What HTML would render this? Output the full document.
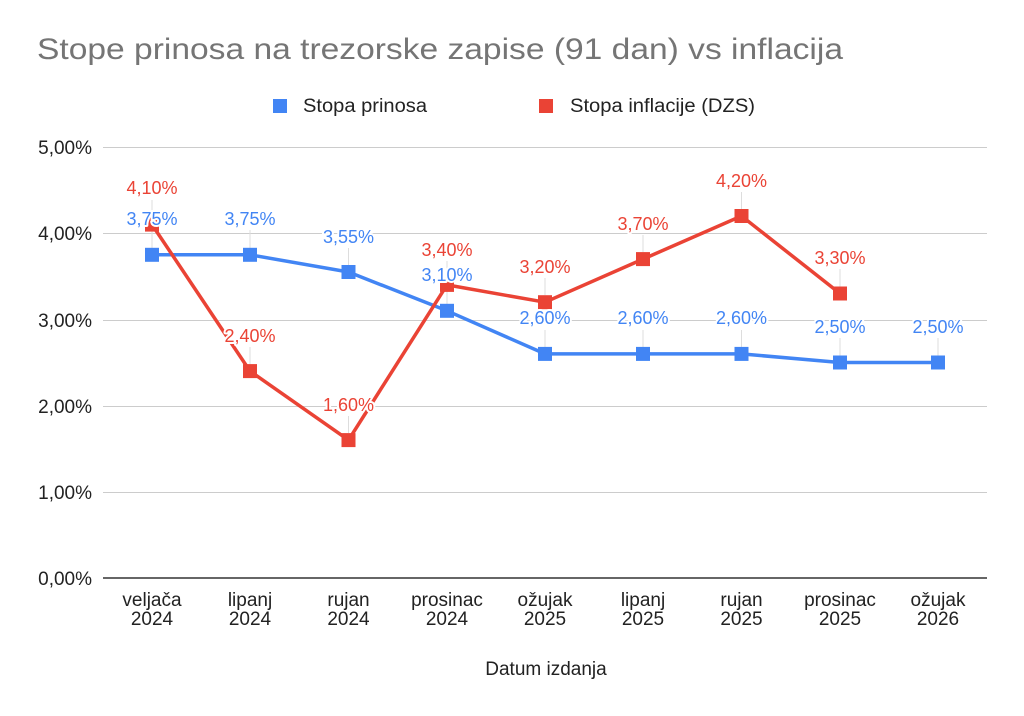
<!DOCTYPE html>
<html>
<head>
<meta charset="utf-8">
<style>
  html, body { margin: 0; padding: 0; background: #fff; }
  svg { display: block; }
  text { font-family: "Liberation Sans", Arial, sans-serif; }
  .ax { font-size: 19px; fill: #222; }
  .lb { font-size: 18px; paint-order: stroke; stroke: #fff; stroke-width: 4px; stroke-linejoin: round; text-anchor: middle; }
  .b { fill: #4285F4; }
  .r { fill: #EA4335; }
</style>
</head>
<body>
<svg width="1024" height="716" viewBox="0 0 1024 716" xmlns="http://www.w3.org/2000/svg">
  <rect width="1024" height="716" fill="#fff"/>
  <!-- Title -->
  <text x="37" y="59" font-size="30" fill="#757575" textLength="806" lengthAdjust="spacingAndGlyphs">Stope prinosa na trezorske zapise (91 dan) vs inflacija</text>

  <!-- Legend -->
  <rect x="273" y="99" width="14" height="14" fill="#4285F4"/>
  <text x="303" y="112" class="ax" textLength="124" lengthAdjust="spacingAndGlyphs">Stopa prinosa</text>
  <rect x="539" y="99" width="14" height="14" fill="#EA4335"/>
  <text x="570" y="112" class="ax" textLength="185" lengthAdjust="spacingAndGlyphs">Stopa inflacije (DZS)</text>

  <!-- Gridlines -->
  <g stroke="#cccccc" stroke-width="1">
    <line x1="103" y1="147.5" x2="987" y2="147.5"/>
    <line x1="103" y1="233.5" x2="987" y2="233.5"/>
    <line x1="103" y1="320.5" x2="987" y2="320.5"/>
    <line x1="103" y1="406.5" x2="987" y2="406.5"/>
    <line x1="103" y1="492.5" x2="987" y2="492.5"/>
  </g>
  <line x1="103" y1="578" x2="987" y2="578" stroke="#333" stroke-width="1.5"/>

  <!-- Y axis labels -->
  <g class="ax" text-anchor="end">
    <text x="92" y="154">5,00%</text>
    <text x="92" y="240">4,00%</text>
    <text x="92" y="327">3,00%</text>
    <text x="92" y="413">2,00%</text>
    <text x="92" y="499">1,00%</text>
    <text x="92" y="585">0,00%</text>
  </g>

  <!-- X axis labels -->
  <g class="ax" text-anchor="middle">
    <text x="152" y="606">veljača</text><text x="152" y="625">2024</text>
    <text x="250" y="606">lipanj</text><text x="250" y="625">2024</text>
    <text x="348.5" y="606">rujan</text><text x="348.5" y="625">2024</text>
    <text x="447" y="606">prosinac</text><text x="447" y="625">2024</text>
    <text x="545" y="606">ožujak</text><text x="545" y="625">2025</text>
    <text x="643" y="606">lipanj</text><text x="643" y="625">2025</text>
    <text x="741.5" y="606">rujan</text><text x="741.5" y="625">2025</text>
    <text x="840" y="606">prosinac</text><text x="840" y="625">2025</text>
    <text x="938" y="606">ožujak</text><text x="938" y="625">2026</text>
    <text x="546" y="675">Datum izdanja</text>
  </g>

  <!-- Leader lines -->
  <g stroke="#dddddd" stroke-width="1">
    <line x1="152" y1="200" x2="152" y2="218"/>
    <line x1="152" y1="230" x2="152" y2="248"/>
    <line x1="250" y1="230" x2="250" y2="248"/>
    <line x1="348.5" y1="248" x2="348.5" y2="265"/>
    <line x1="447" y1="286" x2="447" y2="304"/>
    <line x1="447" y1="261" x2="447" y2="278"/>
    <line x1="545" y1="278" x2="545" y2="295"/>
    <line x1="545" y1="330" x2="545" y2="347"/>
    <line x1="643" y1="330" x2="643" y2="347"/>
    <line x1="741.5" y1="330" x2="741.5" y2="347"/>
    <line x1="840" y1="338" x2="840" y2="356"/>
    <line x1="938" y1="338" x2="938" y2="356"/>
    <line x1="250" y1="347" x2="250" y2="364"/>
    <line x1="348.5" y1="416" x2="348.5" y2="433"/>
    <line x1="643" y1="235" x2="643" y2="252"/>
    <line x1="741.5" y1="192" x2="741.5" y2="209"/>
    <line x1="840" y1="269" x2="840" y2="287"/>
  </g>

  <!-- Blue series -->
  <polyline fill="none" stroke="#4285F4" stroke-width="3.5" stroke-linejoin="round"
    points="152,254.8 250,254.8 348.5,272 447,310.8 545,353.9 643,353.9 741.5,353.9 840,362.5 938,362.5"/>
  <g fill="#4285F4">
    <rect x="145" y="247.8" width="14" height="14"/>
    <rect x="243" y="247.8" width="14" height="14"/>
    <rect x="341.5" y="265" width="14" height="14"/>
    <rect x="440" y="303.8" width="14" height="14"/>
    <rect x="538" y="346.9" width="14" height="14"/>
    <rect x="636" y="346.9" width="14" height="14"/>
    <rect x="734.5" y="346.9" width="14" height="14"/>
    <rect x="833" y="355.5" width="14" height="14"/>
    <rect x="931" y="355.5" width="14" height="14"/>
  </g>

  <!-- Red series -->
  <polyline fill="none" stroke="#EA4335" stroke-width="3.5" stroke-linejoin="round"
    points="152,224.6 250,371.1 348.5,440.1 447,284.9 545,302.2 643,259.1 741.5,216 840,293.5"/>
  <g fill="#EA4335">
    <rect x="145" y="217.6" width="14" height="14"/>
    <rect x="243" y="364.1" width="14" height="14"/>
    <rect x="341.5" y="433.1" width="14" height="14"/>
    <rect x="440" y="277.9" width="14" height="14"/>
    <rect x="538" y="295.2" width="14" height="14"/>
    <rect x="636" y="252.1" width="14" height="14"/>
    <rect x="734.5" y="209" width="14" height="14"/>
    <rect x="833" y="286.5" width="14" height="14"/>
  </g>

  <!-- Data labels blue -->
  <g class="lb b">
    <text x="152" y="225">3,75%</text>
    <text x="250" y="225">3,75%</text>
    <text x="348.5" y="243">3,55%</text>
    <text x="447" y="281">3,10%</text>
    <text x="545" y="324">2,60%</text>
    <text x="643" y="324">2,60%</text>
    <text x="741.5" y="324">2,60%</text>
    <text x="840" y="333">2,50%</text>
    <text x="938" y="333">2,50%</text>
  </g>
  <!-- Data labels red -->
  <g class="lb r">
    <text x="152" y="194">4,10%</text>
    <text x="250" y="342">2,40%</text>
    <text x="348.5" y="411">1,60%</text>
    <text x="447" y="256">3,40%</text>
    <text x="545" y="273">3,20%</text>
    <text x="643" y="230">3,70%</text>
    <text x="741.5" y="187">4,20%</text>
    <text x="840" y="264">3,30%</text>
  </g>
</svg>
</body>
</html>
